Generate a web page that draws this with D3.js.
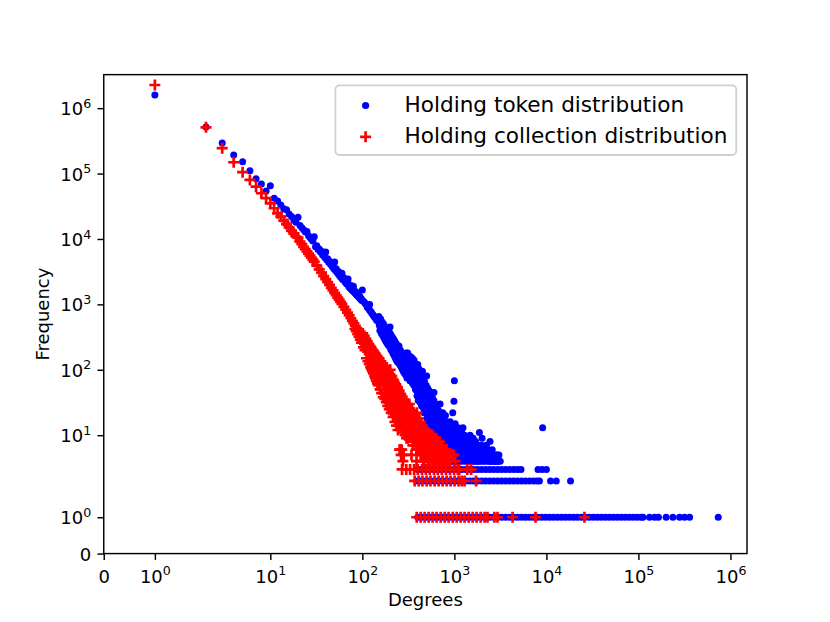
<!DOCTYPE html>
<html>
<head>
<meta charset="utf-8">
<script src="https://d3js.org/d3.v7.min.js"></script>
<style>
  body { margin: 0; background: #fff; }
  svg { display: block; }
  text { font-family: "DejaVu Sans", sans-serif; fill: #000; }
</style>
</head>
<body>
<svg id="chart"></svg>
<script>
// ---- data: [degree, frequency] ----
const tokenHead = [[1,1590000],[2,517000],[3,293000],[4,193000],[5,151000],[6,110000],[7,83000],[8,69000],[9,54000],[10,65000],
  [11,42000],[12,38000],[13,33000],[14,29000],[15,28000],[16,24000],[17,22000],[18,19500],[19,18000],[20,21500],
  [21,16000],[22,14800],[23,13800],[24,12800],[25,13000],[26,11200],[27,10500],[28,9900],[29,9300],[30,10800],
  [32,7900],[34,7000],[36,6500],[38,5800],[40,6300],[42,5000],[44,4550],[46,4300],[48,4000],[50,4450],
  [52,3500],[54,3250],[56,3100],[58,2900],[60,3000],[63,2550],[66,2300],[69,2150],[70,2450],[72,2000],
  [75,1950],[78,1750],[80,1900],[82,1620],[85,1560],[88,1450],[91,1370],[94,1320],[97,1230],[100,1660]];
const tokenHeadFill = [[31,7600],[33,6900],[35,6300],[37,5700],[39,5200],[41,4800],[43,4400],[45,4100],[47,3800],[49,3500],
  [51,3300],[53,3100],[55,2900],[57,2700],[59,2550],[61,2400],[62,2480],[64,2300],[65,2200],[67,2100],
  [68,2050],[71,1900],[73,1800],[74,1780],[76,1700],[77,1660],[79,1600],[81,1560],[83,1500],[84,1480],
  [86,1420],[87,1400],[89,1350],[90,1330],[92,1290],[93,1270],[95,1230],[96,1200],[98,1170],[99,1150]];
const tokenMid = [[103,1120],[106,1060],[109,1010],[113,900],[116,880],[119,830],[120,1000],[122,790],[125,760],[128,720],
  [131,690],[134,650],[137,630],[140,610],[143,570],[146,560],[150,600],[153,480],[156,470],[159,440],
  [162,445],[165,410],[168,400],[171,385],[174,370],[177,372],[180,345],[183,330],[186,335],[189,310],
  [192,305],[195,290],[198,285],[200,450],[203,270],[206,285],[209,240],[212,262],[215,230],[218,248],
  [221,215],[224,232],[227,200],[230,222],[233,190],[236,210],[239,178],[242,195],[245,168],[248,185],
  [250,230],[252,160],[255,175],[258,150],[261,165],[264,142],[267,158],[270,135],[273,150],[276,128],
  [279,145],[282,122],[285,138],[288,115],[291,132],[294,110],[297,125],[300,180]];
const tokenBandFill = [[151,650],[155,400],[158,600],[161,360],[164,540],[167,330],[170,500],[173,300],[176,460],[179,275],
  [182,430],[185,255],[188,400],[191,240],[194,380],[197,226],[201,360],[204,205],[207,330],[211,190],
  [214,310],[217,175],[220,290],[223,162],[226,270],[229,150],[232,255],[235,140],[238,240],[241,132],
  [244,225],[247,128],[251,210],[254,122],[257,200],[260,115],[263,190],[266,108],[269,180],[272,102],
  [275,172],[278,96],[281,165],[284,91],[287,158],[290,87],[293,150],[296,83],[299,145],
  [181,310],[187,280],[193,258],[199,240],[205,222],[210,208],[216,195],[222,180],[228,170],[234,160],
  [240,150],[246,142],[253,135],[259,128],[265,122],[271,116],[277,110],[283,105],[289,100],[295,96]];
const tokenBlob = [[303,105],[306,140],[309,92],[312,120],[315,85],[318,150],[321,100],[324,78],[327,130],[330,90],
  [334,72],[338,115],[342,82],[346,65],[350,150],[354,98],[358,70],[362,58],[366,105],[370,80],
  [374,60],[378,50],[382,90],[386,68],[390,48],[394,75],[398,55],[400,120],[404,42],[408,85],
  [412,62],[416,45],[420,36],[424,72],[428,52],[432,38],[436,30],[440,64],[445,46],[450,95],
  [455,34],[460,26],[465,55],[470,40],[475,28],[480,22],[485,48],[490,35],[495,24],[500,80],
  [505,18],[510,42],[515,30],[520,21],[525,15],[530,38],[535,27],[540,19],[545,13],[550,33],
  [555,24],[560,16],[566,11],[572,29],[578,21],[584,14],[590,10],[596,26],[600,45],[606,18],
  [612,12],[618,9],[624,22],[630,16],[636,8],[642,11],[648,20],[654,14],[660,7],[666,10],
  [672,18],[678,12],[684,6],[690,9],[696,16],[700,30],[706,11],[712,8],[718,5],[724,14],
  [730,7],[736,10],[742,6],[748,13],[750,22],[756,9],[762,5],[768,12],[774,7],[780,4],
  [786,10],[792,6],[798,8],[800,20],[806,5],[812,11],[818,7],[824,4],[830,9],[836,6],
  [842,14],[848,8],[854,5],[860,10],[866,4],[872,7],[878,12],[884,6],[890,9],[896,5],
  [900,16],[906,8],[912,4],[918,11],[924,6],[930,7],[936,5],[942,9],[948,4],[954,13],
  [960,22],[966,6],[972,8],[978,5],[984,10],[990,33],[996,7],[1000,68],[1010,4],[1020,15],
  [1030,6],[1040,9],[1050,5],[1060,11],[1070,7],[1080,4],[1090,8],[1100,13],[1115,5],[1130,10],
  [1145,6],[1160,4],[1175,9],[1190,7],[1200,12],[1215,5],[1230,8],[1240,13],[1255,4],[1270,6],
  [1290,10],[1310,5],[1330,7],[1350,4],[1370,9],[1390,6],[1410,5],[1430,8],[1450,4],[1480,10],
  [1510,6],[1540,5],[1570,7],[1600,9],[1630,4],[1660,6],[1700,8],[1740,5],[1780,4],[1820,7],
  [1870,11],[1900,6],[1950,5],[2000,9],[2050,4],[2110,6],[2170,5],[2230,7],[2300,4],[2370,5],
  [2440,8],[2510,4],[2580,6],[2660,5],[2750,4],[2850,5],[2950,4],[3050,5],[3150,4],[9100,13]];
const tokenBlobFill = [[301,160],[305,75],[311,180],[317,110],[323,135],[329,68],[333,160],[337,95],[343,125],[347,105],
  [351,62],[357,130],[361,88],[365,140],[369,60],[373,115],[377,92],[381,54],[385,108],[389,78],
  [393,40],[397,100],[401,66],[405,34],[409,105],[413,74],[417,50],[421,90],[425,32],[429,64],
  [433,78],[437,44],[441,28],[443,82],[447,58],[451,36],[457,72],[461,48],[463,30],[467,22],
  [473,66],[477,44],[483,34],[487,25],[493,58],[497,40],[503,30],[507,20],[513,52],[517,36],
  [523,26],[527,17],[533,48],[537,33],[543,22],[547,16],[553,44],[557,30],[563,20],[569,14],
  [575,38],[581,26],[587,17],[593,12],[599,34],[605,24],[609,15],[615,11],[621,30],[627,20],
  [633,13],[639,10],[645,27],[651,17],[657,12],[663,9],[669,24],[675,15],[681,10],[687,8],
  [693,21],[699,13],[703,7],[709,19],[715,12],[721,9],[727,17],[733,11],[739,8],[745,15],
  [753,10],[759,7],[765,18],[771,13],[777,8],[783,6],[789,15],[795,11],[803,9],[809,7],
  [815,16],[821,12],[827,8],[833,5],[839,13],[845,10],[851,7],[857,6],[863,14],[869,9],
  [875,6],[881,11],[887,8],[893,7],[903,12],[909,6],[915,10],[921,9],[927,5],[933,12],
  [939,8],[945,6],[951,10],[957,7],[963,11],[969,9],[975,6],[981,14],[987,8],[993,5],
  [1005,12],[1015,9],[1025,7],[1035,10],[1045,8],[1055,6],[1065,9],[1075,11],[1085,6],[1095,9],
  [1105,7],[1120,8],[1135,6],[1150,11],[1165,7],[1180,5],[1195,8],[1210,6],[1225,10],[1245,7],
  [1260,5],[1280,8],[1300,6],[1320,9],[1340,5],[1360,7],[1380,8],[1400,4],[1420,6],[1440,7],
  [1460,5],[1500,6],[1530,8],[1560,4],[1590,6],[1620,5],[1650,7],[1690,4],[1720,6],[1760,7],
  [1800,5],[1840,4],[1880,6],[1920,4],[1980,7],[2030,5],[2080,6],[2140,4],[2200,6],[2270,5],
  [2340,6],[2410,4],[2480,5],[2550,4],[2620,5],[2700,4],[2800,4],[2900,5],[3000,4]];
// degrees where the token frequency is 3, 2 and 1
const tokenRow3 = [400,440,490,540,600,660,730,810,890,990,1090,1200,1330,1470,1620,1790,1980,2190,2420,2670,
  2950,3260,3600,3980,4400,4860,5300,8100,9000,10000];
const tokenRow2 = [400,440,490,540,600,660,730,810,890,990,1090,1200,1330,1470,1620,1790,1980,2190,2420,2670,
  2950,3260,3600,3980,4400,4860,5370,5930,6550,7240,7900,8400,11100,12800,18300];
const tokenRow1 = [400,440,490,540,600,660,730,810,890,990,1090,1200,1330,1470,1620,1790,1980,2190,2420,2670,
  2950,3260,3600,3980,4400,4860,5370,5930,6550,7240,8000,8840,9770,10800,11900,13200,14600,16100,17800,19700,
  21700,24000,26500,29300,32400,35800,39500,43700,48300,53300,58900,65100,71900,79500,87800,97000,107000,112000,
  132000,150000,165000,200000,237000,280000,317000,360000,737000];

const collectionHead = [[1,2260000],[2,510000],[3,244000],[4,149000],[5,105000],[6,80000],[7,63000],[8,50000],[9,42000],[10,35000],
  [11,29500],[12,24700],[13,21900],[14,19100],[15,16900],[16,15000],[17,13400],[18,12100],[19,10900],[20,10500],
  [21,9100],[22,8320],[23,7590],[24,7000],[25,6450],[26,5970],[27,5550],[28,5160],[29,4820],[30,4500],
  [32,3920],[34,3440],[36,3050],[38,2700],[40,2430],[42,2190],[44,1980],[46,1790],[48,1640],[50,1500],
  [52,1380],[54,1270],[56,1180],[58,1090],[60,1020],[63,916],[66,828],[69,747],[72,678],[75,614],
  [78,560],[81,514],[83,420],[84,471],[86,390],[87,432],[89,350],[90,400],[92,320],[93,371],
  [95,290],[96,344],[98,260]];
const collectionMid = [[100,330],[102,295],[104,270],[106,285],[108,250],[110,262],[112,228],[114,240],[116,210],[118,220],
  [120,205],[122,185],[125,190],[128,165],[130,172],[133,150],[135,160],[138,136],[140,150],[143,122],
  [145,138],[148,112],[150,128],[153,100],[155,122],[158,92],[160,112],[163,84],[165,104],[168,78],
  [170,98],[173,70],[175,92],[178,64],[180,88],[183,58],[185,84],[188,54],[190,80],[193,50],
  [195,76],[198,46],[200,74],[203,42],[205,68],[208,38],[210,64],[213,44],[215,36],[218,58],
  [220,32],[223,52],[225,40],[228,30],[230,48],[233,27],[236,45],[239,34],[242,25],
  [245,42],[248,23],[250,40],[252,30],[254,6],[255,21],[258,36],[259,6],[260,19],[264,5],[263,33],
  [266,26],[268,6],[269,17],[272,31],[275,22],[276,4],[278,16],[281,28],[282,5],[284,19],[287,14],
  [290,26],[293,18],[296,13],[300,24]];
const collectionBandFill = [[101,360],[103,220],[105,330],[107,200],[109,300],[111,150],[113,275],[115,135],[117,250],[119,122],
  [121,232],[123,110],[124,220],[126,102],[127,208],[129,95],[131,196],[132,88],[134,186],[136,80],
  [137,178],[139,74],[141,168],[142,68],[144,160],[146,62],[147,154],[149,58],[152,146],[156,50],
  [159,134],[162,44],[166,125],[169,38],[172,115],[176,36],[179,105],[182,32],[186,98],[189,28],
  [192,90],[196,25],[199,85],[202,80],[206,22],[211,72],[216,19],[221,66],[226,16],[231,60],
  [235,14],[241,54],[244,12],[251,48],[261,43],[271,39],[281,35],[291,32],[301,29],[311,27],
  [321,25],[331,23],[341,21],[351,20]];
const collectionBlob = [[304,20],[308,30],[312,12],[316,24],[320,16],[324,30],[326,25],[328,10],[332,21],[336,14],
  [340,20],[342,5],[344,24],[348,9],[352,17],[356,12],[360,22],[364,8],[368,19],[372,13],
  [376,20],[380,7],[384,15],[388,4],[390,10],[392,22],[396,6],[400,18],[404,12],[408,18],
  [412,8],[416,14],[420,6],[424,16],[428,10],[430,5],[432,15],[436,5],[440,12],[444,8],
  [448,13],[452,6],[456,11],[458,4],[460,12],[464,7],[468,9],[472,4],[476,11],[480,6],
  [485,12],[490,8],[495,5],[500,12],[505,10],[510,7],[515,4],[520,11],[525,6],[530,9],
  [535,5],[540,10],[545,7],[550,4],[555,10],[560,6],[566,8],[572,5],[578,10],[584,4],
  [590,7],[594,4],[596,9],[602,5],[608,6],[614,9],[620,4],[626,9],[632,5],[638,7],
  [640,5],[644,4],[650,8],[656,6],[662,8],[668,5],[674,4],[680,7],[688,8],[696,5],
  [700,4],[712,6],[720,7],[730,5],[740,4],[750,6],[760,5],[772,4],[784,6],[796,5],
  [810,4],[825,6],[840,5],[850,5],[860,4],[880,5],[900,4],[930,5],[960,5],[990,5],[1020,4]];
const collectionBlobFill = [[151,150],[154,95],[157,130],[161,88],[164,120],[167,72],[171,110],[174,66],[177,100],[181,60],
  [184,95],[187,50],[191,88],[194,45],[197,82],[199,40],[201,100],[204,58],[207,34],[209,80],
  [212,52],[214,30],[217,70],[219,40],[222,28],[224,62],[227,36],[229,24],[232,56],[234,33],
  [237,20],[240,50],[243,29],[247,18],[249,45],[253,26],[256,15],[259,40],[261,24],[264,14],
  [267,37],[271,20],[274,12],[277,33],[280,18],[283,11],[286,30],[289,16],[292,10],[295,27],
  [298,15],[302,9],[306,25],[310,14],[314,9],[318,26],[322,18],[330,22],[334,11],[338,16],
  [346,20],[350,13],[354,7],[358,20],[362,15],[366,10],[370,18],[374,9],[378,15],[382,11],
  [386,6],[394,16],[398,10],[402,7],[406,14],[410,11],[414,6],[418,15],[422,9],[426,13],
  [434,8],[438,13],[442,10],[446,6],[450,12],[454,9],[462,11],[466,5],[470,10],[474,7],
  [478,11],[482,9],[488,6],[492,10],[498,8],[502,10],[508,5],[512,9],[518,6],[522,9],
  [528,7],[532,9],[538,8],[542,5],[548,9],[552,6],[558,8],[564,7],[570,8],[576,6],
  [582,8],[588,5],[600,8],[606,7],[612,6],[618,8],[624,5],[630,7],[636,6],[646,8],
  [652,6],[660,7],[670,6],[678,5],[684,7],[692,6],[706,5],[716,6],[726,6],[736,5],
  [746,6],[756,4],[766,6],[778,5]];
// degrees where the collection frequency is 3, 2 and 1
const collectionRow3 = [270,300,330,365,400,445,490,540,600,660,730,810,895,990,1090,1130,1380,1520];
const collectionRow2 = [370,410,450,500,550,610,675,745,825,910,1005,1110,1200,1290,1720];
const collectionRow1 = [390,430,475,525,580,640,710,785,865,960,1060,1170,1290,1430,1580,1740,1930,2130,2290,
  2720,2940,4290,7620,25900];

const xTickValues = [0, 1, 10, 100, 1000, 10000, 100000, 1000000];
const xTickLabels = ["0", "10^0", "10^1", "10^2", "10^3", "10^4", "10^5", "10^6"];
const yTickValues = [0, 1, 10, 100, 1000, 10000, 100000, 1000000];
const yTickLabels = ["0", "10^0", "10^1", "10^2", "10^3", "10^4", "10^5", "10^6"];
const seriesNames = ["Holding token distribution", "Holding collection distribution"];

// ---- layout ----
const width = 830, height = 622;
const margin = { top: 74.64, right: 83, bottom: 68.42, left: 103.75 };
const blue = "#0000ff", red = "#ff0000";

// symmetric log, linthresh 2, linscale 1 (same as the plot's axis transform)
function symlog(v) {
  const L = 2, a = 1 / (1 - 1 / 10);
  const m = Math.abs(v);
  return m <= L ? v * a : Math.sign(v) * L * (a + Math.log10(m / L));
}

const x = d3.scaleLinear().domain([0, 13.98]).range([margin.left, width - margin.right]);
const y = d3.scaleLinear().domain([0, 14.645]).range([height - margin.bottom, margin.top]);
const px = v => x(symlog(v));
const py = v => y(symlog(v));

const svg = d3.select("#chart").attr("width", width).attr("height", height);

const withFreq = (degs, f) => degs.map(d => [d, f]);
const tokenData = tokenHead.concat(tokenHeadFill, tokenMid, tokenBandFill, tokenBlob, tokenBlobFill,
  withFreq(tokenRow3, 3), withFreq(tokenRow2, 2), withFreq(tokenRow1, 1));
const collectionData = collectionHead.concat(collectionMid, collectionBandFill, collectionBlob, collectionBlobFill,
  withFreq(collectionRow3, 3), withFreq(collectionRow2, 2), withFreq(collectionRow1, 1));

// token: blue dots
svg.append("g")
  .selectAll("circle")
  .data(tokenData)
  .join("circle")
  .attr("cx", d => px(d[0]))
  .attr("cy", d => py(d[1]))
  .attr("r", 3.5)
  .attr("fill", blue);

// collection: red plus markers
const plus = "M-5.5,0H5.5M0,-5.5V5.5";
svg.append("g")
  .selectAll("path")
  .data(collectionData)
  .join("path")
  .attr("transform", d => `translate(${px(d[0])},${py(d[1])})`)
  .attr("d", plus)
  .attr("stroke", red)
  .attr("stroke-width", 2.7)
  .attr("fill", "none");

// tick label with a superscript exponent
function writeLabel(t, label) {
  const parts = label.split("^");
  t.append("tspan").text(parts[0]);
  if (parts[1] !== undefined) {
    t.append("tspan").attr("dy", -7.5).style("font-size", "12.6px").text(parts[1]);
  }
}

// x axis
const xAxisG = svg.append("g")
  .attr("transform", `translate(0,${y(0)})`)
  .call(d3.axisBottom(x)
    .tickValues(xTickValues.map(symlog))
    .tickSize(6.3)
    .tickSizeOuter(0)
    .tickFormat(() => ""));
xAxisG.select(".domain").remove();
xAxisG.selectAll(".tick line").attr("stroke", "#000").attr("stroke-width", 1.44);
xAxisG.selectAll(".tick text").remove();
xAxisG.selectAll(".tick").each(function (d, i) {
  const t = d3.select(this).append("text")
    .attr("y", 29.4)
    .attr("text-anchor", "middle")
    .style("font-size", "18px")
    .attr("fill", "#000");
  writeLabel(t, xTickLabels[i]);
});

// y axis
const yAxisG = svg.append("g")
  .attr("transform", `translate(${x(0)},0)`)
  .call(d3.axisLeft(y)
    .tickValues(yTickValues.map(symlog))
    .tickSize(6.3)
    .tickSizeOuter(0)
    .tickFormat(() => ""));
yAxisG.select(".domain").remove();
yAxisG.selectAll(".tick line").attr("stroke", "#000").attr("stroke-width", 1.44);
yAxisG.selectAll(".tick text").remove();
yAxisG.selectAll(".tick").each(function (d, i) {
  const t = d3.select(this).append("text")
    .attr("x", -12.6)
    .attr("y", 6.6)
    .attr("text-anchor", "end")
    .style("font-size", "18px")
    .attr("fill", "#000");
  writeLabel(t, yTickLabels[i]);
});

// frame
svg.append("rect")
  .attr("x", margin.left)
  .attr("y", margin.top)
  .attr("width", width - margin.left - margin.right)
  .attr("height", height - margin.top - margin.bottom)
  .attr("fill", "none")
  .attr("stroke", "#000")
  .attr("stroke-width", 1.44);

// axis titles
svg.append("text")
  .attr("x", (margin.left + width - margin.right) / 2)
  .attr("y", 606)
  .attr("text-anchor", "middle")
  .style("font-size", "18px")
  .text("Degrees");

svg.append("text")
  .attr("transform", `translate(49,${(margin.top + height - margin.bottom) / 2}) rotate(-90)`)
  .attr("text-anchor", "middle")
  .style("font-size", "18px")
  .text("Frequency");

// legend
const legend = svg.append("g");
legend.append("rect")
  .attr("x", 335.4)
  .attr("y", 85.4)
  .attr("width", 400.8)
  .attr("height", 69.6)
  .attr("rx", 4)
  .attr("fill", "#fff")
  .attr("fill-opacity", 0.8)
  .attr("stroke", "#d0d0d0")
  .attr("stroke-width", 1.8);
legend.append("circle")
  .attr("cx", 365.6).attr("cy", 105.5).attr("r", 3.6).attr("fill", blue);
legend.append("path")
  .attr("transform", "translate(365.6,136.8)")
  .attr("d", plus).attr("stroke", red).attr("stroke-width", 2.7).attr("fill", "none");
legend.selectAll("text.lab")
  .data(seriesNames)
  .join("text")
  .attr("class", "lab")
  .attr("x", 404.5)
  .attr("y", (d, i) => 111.5 + i * 31)
  .style("font-size", "21.6px")
  .text(d => d);
</script>
</body>
</html>
